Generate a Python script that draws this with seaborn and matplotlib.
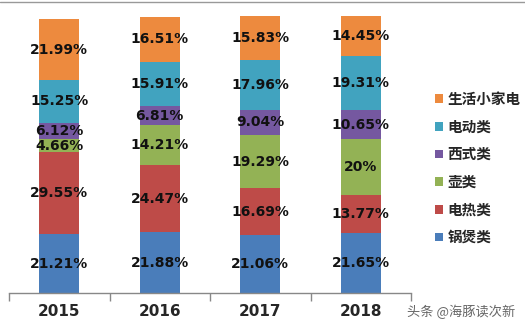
import matplotlib
matplotlib.use("Agg")
import matplotlib.pyplot as plt
import seaborn as sns
import pandas as pd
import numpy as np
from matplotlib.patches import Patch
from matplotlib.lines import Line2D

sns.set_theme(style="white")
plt.rcParams['font.family'] = ['Noto Sans CJK SC', 'DejaVu Sans']

years = ["2015", "2016", "2017", "2018"]
categories = ["锅煲类", "电热类", "壶类", "西式类", "电动类", "生活小家电"]
guobao = [21.21, 21.88, 21.06, 21.65]
dianre = [29.55, 24.47, 16.69, 13.77]
hu = [4.66, 14.21, 19.29, 20.00]
xishi = [6.12, 6.81, 9.04, 10.65]
diandong = [15.25, 15.91, 17.96, 19.31]
shenghuo = [21.99, 16.51, 15.83, 14.45]
labels = {
    "锅煲类": ["21.21%", "21.88%", "21.06%", "21.65%"],
    "电热类": ["29.55%", "24.47%", "16.69%", "13.77%"],
    "壶类": ["4.66%", "14.21%", "19.29%", "20%"],
    "西式类": ["6.12%", "6.81%", "9.04%", "10.65%"],
    "电动类": ["15.25%", "15.91%", "17.96%", "19.31%"],
    "生活小家电": ["21.99%", "16.51%", "15.83%", "14.45%"],
}
colors = ["#4A7DBA", "#BE4B48", "#93B255", "#7558A0", "#41A3BF", "#ED8A3E"]

series = [guobao, dianre, hu, xishi, diandong, shenghuo]

W, H = 525, 327
fig = plt.figure(figsize=(W / 100, H / 100), dpi=100)
ax = fig.add_axes([9 / W, 1 - 293 / H, (411 - 9) / W, (293 - 16) / H])

bottom = np.zeros(len(years))
for name, vals, col in zip(categories, series, colors):
    df = pd.DataFrame({"year": years, "value": vals})
    sns.barplot(data=df, x="year", y="value", order=years, color=col,
                width=0.4, bottom=bottom, ax=ax, saturation=1,
                edgecolor="none", linewidth=0)
    for i, (v, lab) in enumerate(zip(vals, labels[name])):
        ax.text(i, bottom[i] + v / 2, lab, ha="center", va="center",
                fontsize=10, fontweight="bold", color="#111111",
                family="DejaVu Sans")
    bottom = bottom + np.array(vals)

ax.set_xlim(-0.5, len(years) - 0.5)
ax.set_ylim(0, 100)
ax.set_xlabel("")
ax.set_ylabel("")
ax.set_yticks([])
for s in ["left", "right", "top"]:
    ax.spines[s].set_visible(False)
ax.spines["bottom"].set_color("#888888")
ax.spines["bottom"].set_linewidth(1)

# boundary tick marks between categories, labels centred under each bar
ax.set_xticks(np.arange(-0.5, len(years), 1.0))
ax.set_xticklabels([])
ax.set_xticks(np.arange(len(years)), minor=True)
ax.set_xticklabels(years, minor=True, fontsize=11, fontweight="bold",
                   family="DejaVu Sans")
ax.tick_params(axis="x", which="major", direction="out", length=6,
               width=1, color="#888888", bottom=True)
ax.tick_params(axis="x", which="minor", length=0, pad=8)

handles = [Patch(facecolor=c, edgecolor="none") for c in colors][::-1]
fig.legend(handles, categories[::-1], loc="upper left",
           bbox_to_anchor=(429 / W, 1 - 85 / H), frameon=False,
           prop={"family": ["Noto Sans CJK SC"], "weight": "bold", "size": 10.5},
           handlelength=0.55, handleheight=0.55, handletextpad=0.3,
           labelspacing=0.8, borderaxespad=0)

# thin grey border along the top edge
fig.add_artist(Line2D([0, 1], [1 - 1.5 / H, 1 - 1.5 / H], color="#999999",
                      linewidth=1, transform=fig.transFigure))

fig.text(407 / W, 1 - 312 / H, "头条 @海豚读次新", fontsize=9.5,
         color="#666666", va="center", ha="left",
         family=["Noto Sans CJK SC", "DejaVu Sans"])

fig.savefig("out.png", dpi=100, facecolor="white")
